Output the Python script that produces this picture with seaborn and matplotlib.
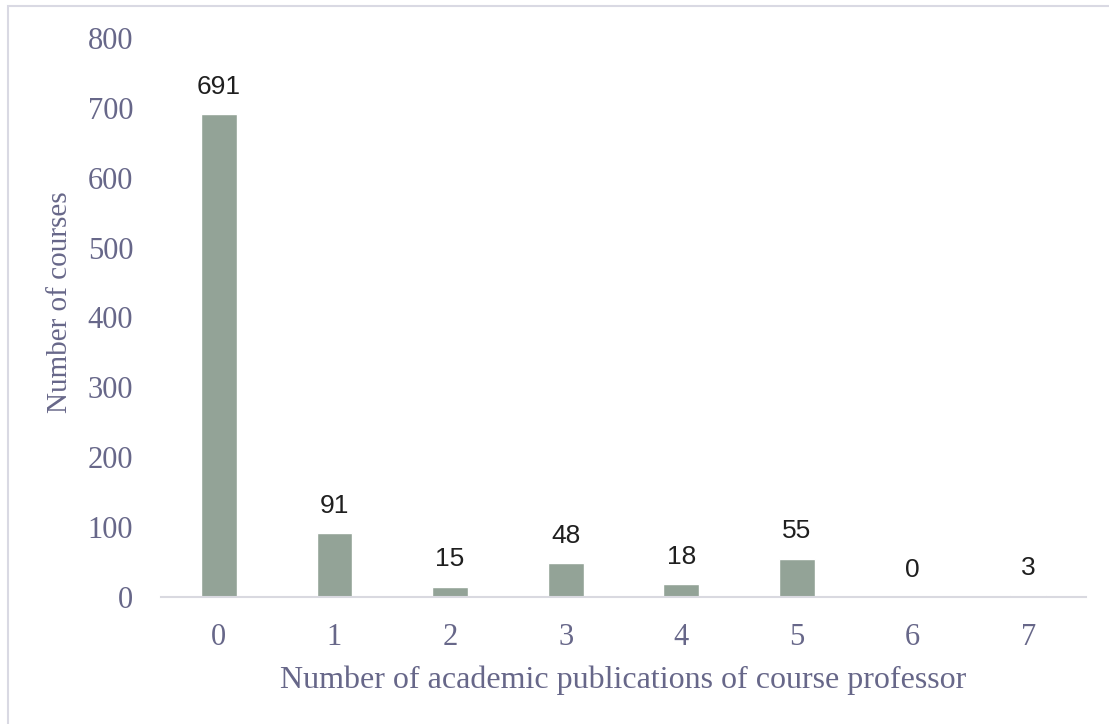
import matplotlib
matplotlib.use("Agg")
import matplotlib.pyplot as plt
from matplotlib.patches import Rectangle
import seaborn as sns
import pandas as pd

publications = ["0", "1", "2", "3", "4", "5", "6", "7"]
courses = [691, 91, 15, 48, 18, 55, 0, 3]
y_ticks = [0, 100, 200, 300, 400, 500, 600, 700, 800]

df = pd.DataFrame({"publications": publications, "courses": courses})

sns.set_style("white")
plt.rcParams["font.family"] = ["Liberation Serif", "DejaVu Serif"]

W, H = 1109, 724
fig = plt.figure(figsize=(W / 100, H / 100), dpi=100)
ax = fig.add_axes([161 / W, 1 - 597 / H, (1086 - 161) / W, (597 - 38) / H])

bar_color = "#93a397"
text_color = "#676789"
sns.barplot(data=df, x="publications", y="courses", color=bar_color,
            width=0.31, saturation=1, ax=ax)

for patch, v in zip(ax.patches, courses):
    ax.text(patch.get_x() + patch.get_width() / 2, v + 22, f"{v}",
            ha="center", va="bottom", fontsize=19, color="#1f1f1f",
            family=["Liberation Sans", "DejaVu Sans"])

ax.set_xlim(-0.5, 7.5)
ax.set_ylim(0, 800)
ax.set_yticks(y_ticks)
ax.tick_params(axis="both", length=0, labelsize=22, labelcolor=text_color)
ax.tick_params(axis="y", pad=20)
ax.tick_params(axis="x", pad=19)

for s in ["top", "right", "left"]:
    ax.spines[s].set_visible(False)
ax.spines["bottom"].set_color("#d9d9e0")
ax.spines["bottom"].set_linewidth(1.5)

ax.set_xlabel("Number of academic publications of course professor",
              fontsize=23, color=text_color, va="center")
ax.xaxis.set_label_coords(0.5, -0.149)
ax.set_ylabel("Number of courses", fontsize=21, color=text_color, va="center")
ax.yaxis.set_label_coords(-0.109, 0.528)

# light frame around the chart area
fig.patches.append(Rectangle((8 / W, -0.1), 1.2, 1 - 6 / H + 0.1,
                             transform=fig.transFigure, fill=False,
                             edgecolor="#d9d9e3", linewidth=1.5))

fig.savefig("out.png", dpi=100)
